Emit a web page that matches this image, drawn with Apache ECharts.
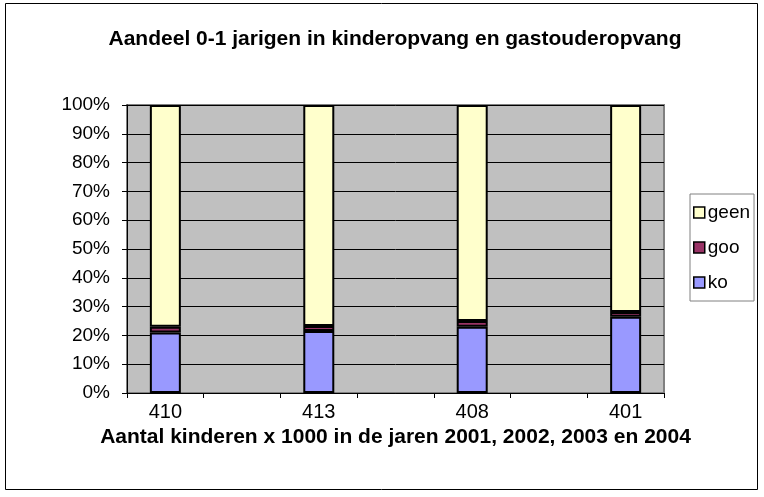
<!DOCTYPE html>
<html>
<head>
<meta charset="utf-8">
<script src="https://cdn.jsdelivr.net/npm/echarts@6/dist/echarts.min.js"></script>
<style>
  html, body { margin: 0; padding: 0; background: #fff; }
  #chart { width: 764px; height: 497px; }
</style>
</head>
<body>
<div id="chart"></div>
<script>
// categories (empty ones are the gaps between the years)
const categories = ['410', '', '413', '', '408', '', '401'];
// percentages
const ko   = [21,   null, 21.5, null, 23,   null, 26.5];
const goo  = [2,    null, 1.8,  null, 2,    null, 1.6];
const geen = [77,   null, 76.7, null, 75,   null, 71.9];
const yTicks = [0, 10, 20, 30, 40, 50, 60, 70, 80, 90, 100];

const chart = echarts.init(document.getElementById('chart'));
const font = 'Liberation Sans, Arial, sans-serif';

const toData = arr => arr.map(v => v == null ? '-' : v);

const barStyle = (color) => ({
  color: color,
  borderColor: '#000',
  borderWidth: 2
});

const option = {
  animation: false,
  backgroundColor: '#fff',
  textStyle: { fontFamily: font },
  title: {
    text: 'Aandeel 0-1 jarigen in kinderopvang en gastouderopvang',
    left: 390,
    textAlign: 'center',
    top: 24,
    textStyle: { fontFamily: font, fontSize: 21, fontWeight: 'bold', color: '#000' }
  },
  graphic: [{
    type: 'rect',
    shape: { x: 5.5, y: 3.5, width: 752, height: 486 },
    style: { fill: 'none', stroke: '#000', lineWidth: 1 },
    silent: true
  }],
  legend: {
    orient: 'vertical',
    left: 690,
    top: 194,
    padding: [9, 4, 9, 3],
    itemGap: 16,
    itemWidth: 11,
    itemHeight: 11,
    icon: 'rect',
    borderColor: '#808080',
    borderWidth: 1,
    data: ['geen', 'goo', 'ko'],
    textStyle: { fontFamily: font, fontSize: 19, color: '#000', padding: [0, 0, 0, -2] },
    itemStyle: { borderColor: '#000', borderWidth: 1.5 }
  },
  grid: {
    left: 127,
    right: 100,
    top: 105,
    bottom: 104,
    show: true,
    backgroundColor: '#C0C0C0',
    borderColor: '#808080',
    borderWidth: 2
  },
  xAxis: {
    type: 'category',
    data: categories,
    name: 'Aantal kinderen x 1000 in de jaren 2001, 2002, 2003 en 2004',
    nameLocation: 'middle',
    nameGap: 34,
    nameTextStyle: { fontFamily: font, fontSize: 21, fontWeight: 'bold', color: '#000' },
    axisLine: { lineStyle: { color: '#000', width: 1 } },
    axisTick: { show: true, interval: 0, length: 5, lineStyle: { color: '#000' } },
    axisLabel: { interval: 0, margin: 9, fontFamily: font, fontSize: 20, color: '#000' }
  },
  yAxis: {
    type: 'value',
    min: 0,
    max: 100,
    interval: 10,
    axisLine: { show: true, lineStyle: { color: '#000', width: 1 } },
    axisTick: { show: true, length: 5, lineStyle: { color: '#000' } },
    splitLine: { show: true, lineStyle: { color: '#000', width: 1 } },
    axisLabel: {
      margin: 17,
      fontFamily: font,
      fontSize: 19,
      color: '#000',
      formatter: v => yTicks.includes(v) ? v + '%' : ''
    }
  },
  series: [
    { name: 'ko',   type: 'bar', stack: 'a', barWidth: 31, data: toData(ko),   itemStyle: barStyle('#9999FF') },
    { name: 'goo',  type: 'bar', stack: 'a', barWidth: 31, data: toData(goo),  itemStyle: barStyle('#993366') },
    { name: 'geen', type: 'bar', stack: 'a', barWidth: 31, data: toData(geen), itemStyle: barStyle('#FFFFCC') }
  ]
};

chart.setOption(option);
</script>
</body>
</html>
